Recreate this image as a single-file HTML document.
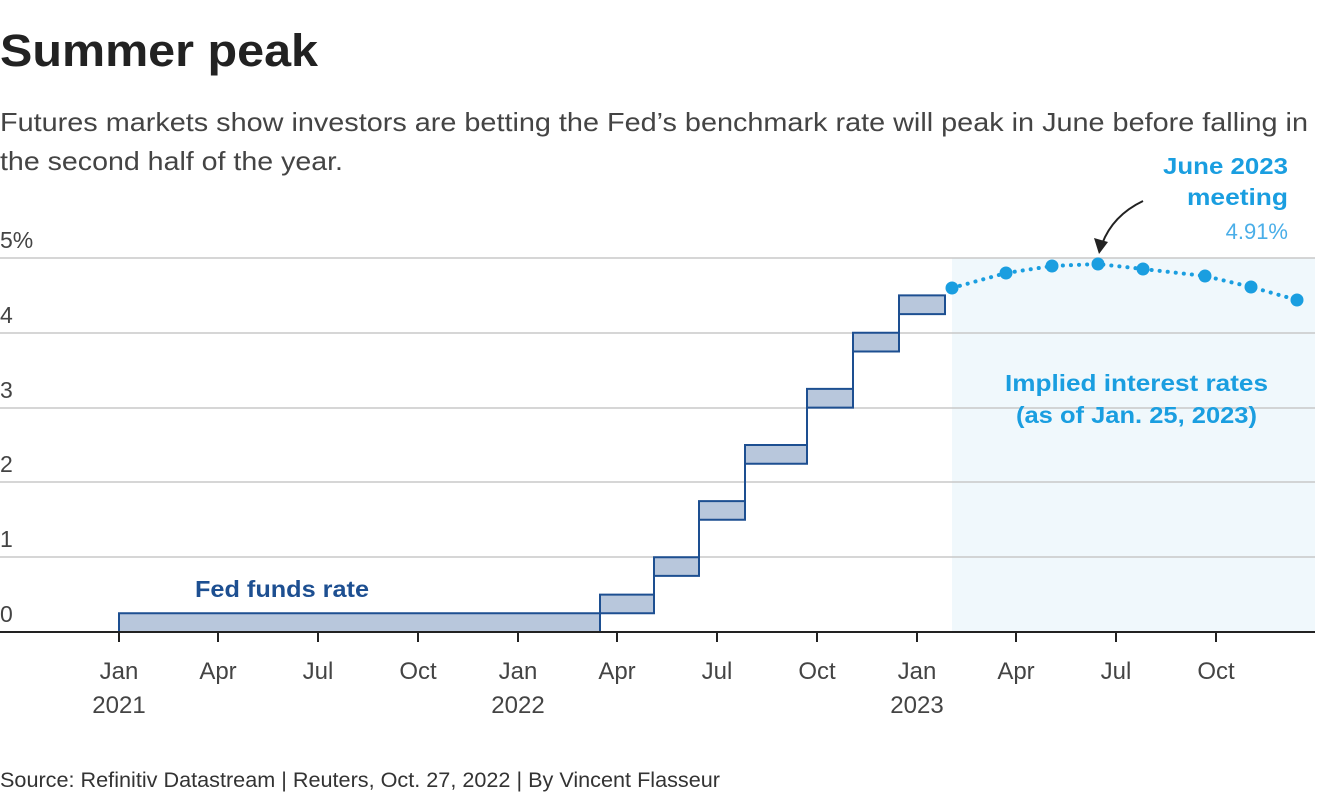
<!DOCTYPE html>
<html><head><meta charset="utf-8"><style>
body{margin:0;background:#fff;width:1320px;height:800px;overflow:hidden;font-family:"Liberation Sans",sans-serif}
</style></head><body>
<svg width="1320" height="800" xmlns="http://www.w3.org/2000/svg" style="position:absolute;left:0;top:0">
<text x="0" y="66" font-size="45" font-weight="bold" fill="#222" font-family="Liberation Sans" textLength="318" lengthAdjust="spacingAndGlyphs">Summer peak</text>
<text x="0" y="131" font-size="26" fill="#444" font-family="Liberation Sans" textLength="1308" lengthAdjust="spacingAndGlyphs">Futures markets show investors are betting the Fed’s benchmark rate will peak in June before falling in</text>
<text x="0" y="170" font-size="26" fill="#444" font-family="Liberation Sans" textLength="343" lengthAdjust="spacingAndGlyphs">the second half of the year.</text>
<rect x="952" y="258" width="363" height="374" fill="#f0f8fc"/>
<g stroke="#c8c8c8" stroke-width="1.5">
<line x1="0" y1="258" x2="1315" y2="258"/><line x1="0" y1="333" x2="1315" y2="333"/>
<line x1="0" y1="408" x2="1315" y2="408"/><line x1="0" y1="482" x2="1315" y2="482"/>
<line x1="0" y1="557" x2="1315" y2="557"/>
</g>
<g font-size="23" fill="#444" font-family="Liberation Sans">
<text x="0" y="248">5%</text><text x="0" y="323">4</text><text x="0" y="398">3</text>
<text x="0" y="472">2</text><text x="0" y="547">1</text><text x="0" y="622">0</text>
</g>
<polygon points="119,613.3 600,613.3 600,594.6 654,594.6 654,557.2 699,557.2 699,501.1 745,501.1 745,445 807,445 807,388.9 853,388.9 853,332.8 899,332.8 899,295.4 945,295.4 945,314.1 899,314.1 899,351.5 853,351.5 853,407.6 807,407.6 807,463.7 745,463.7 745,519.8 699,519.8 699,575.9 654,575.9 654,613.3 600,613.3 600,632 119,632" fill="#b8c7dc" stroke="#1d4f91" stroke-width="2"/>
<line x1="0" y1="632" x2="1315" y2="632" stroke="#222" stroke-width="2"/>
<g stroke="#222" stroke-width="2">
<line x1="119" y1="632" x2="119" y2="642"/><line x1="218" y1="632" x2="218" y2="642"/><line x1="318" y1="632" x2="318" y2="642"/><line x1="418" y1="632" x2="418" y2="642"/><line x1="518" y1="632" x2="518" y2="642"/><line x1="617" y1="632" x2="617" y2="642"/><line x1="717" y1="632" x2="717" y2="642"/><line x1="817" y1="632" x2="817" y2="642"/><line x1="917" y1="632" x2="917" y2="642"/><line x1="1016" y1="632" x2="1016" y2="642"/><line x1="1116" y1="632" x2="1116" y2="642"/><line x1="1216" y1="632" x2="1216" y2="642"/>
</g>
<g font-size="24" fill="#444" text-anchor="middle" font-family="Liberation Sans">
<text x="119" y="679">Jan</text><text x="119" y="713">2021</text>
<text x="218" y="679">Apr</text><text x="318" y="679">Jul</text><text x="418" y="679">Oct</text>
<text x="518" y="679">Jan</text><text x="518" y="713">2022</text>
<text x="617" y="679">Apr</text><text x="717" y="679">Jul</text><text x="817" y="679">Oct</text>
<text x="917" y="679">Jan</text><text x="917" y="713">2023</text>
<text x="1016" y="679">Apr</text><text x="1116" y="679">Jul</text><text x="1216" y="679">Oct</text>
</g>
<text x="195" y="597" font-size="23" font-weight="bold" fill="#1d4f91" font-family="Liberation Sans" textLength="174" lengthAdjust="spacingAndGlyphs">Fed funds rate</text>
<polyline points="952,288 1006,273 1052,266 1098,264 1143,269 1205,276 1251,287 1297,300" fill="none" stroke="#1a9ee0" stroke-width="4" stroke-dasharray="0.1,8" stroke-linecap="round"/>
<g fill="#1a9ee0">
<circle cx="952" cy="288" r="6.5"/><circle cx="1006" cy="273" r="6.5"/><circle cx="1052" cy="266" r="6.5"/><circle cx="1098" cy="264" r="6.5"/><circle cx="1143" cy="269" r="6.5"/><circle cx="1205" cy="276" r="6.5"/><circle cx="1251" cy="287" r="6.5"/><circle cx="1297" cy="300" r="6.5"/>
</g>
<text x="1005" y="391" font-size="23" font-weight="bold" fill="#1a9ee0" font-family="Liberation Sans" textLength="263" lengthAdjust="spacingAndGlyphs">Implied interest rates</text>
<text x="1016" y="423" font-size="23" font-weight="bold" fill="#1a9ee0" font-family="Liberation Sans" textLength="241" lengthAdjust="spacingAndGlyphs">(as of Jan. 25, 2023)</text>
<g font-family="Liberation Sans">
<text x="1163" y="174" font-size="23" font-weight="bold" fill="#1a9ee0" textLength="125" lengthAdjust="spacingAndGlyphs">June 2023</text>
<text x="1187" y="205" font-size="23" font-weight="bold" fill="#1a9ee0" textLength="101" lengthAdjust="spacingAndGlyphs">meeting</text>
<text x="1288" y="239" font-size="22" fill="#4aaee8" text-anchor="end">4.91%</text>
</g>
<path d="M1143,201 C1120,212 1108,228 1102,244" fill="none" stroke="#222" stroke-width="2"/>
<polygon points="1099,254 1094,238 1108,242" fill="#222"/>
<text x="0" y="787" font-size="21" fill="#333" font-family="Liberation Sans" textLength="720" lengthAdjust="spacingAndGlyphs">Source: Refinitiv Datastream | Reuters, Oct. 27, 2022 | By Vincent Flasseur</text>
</svg>
</body></html>
